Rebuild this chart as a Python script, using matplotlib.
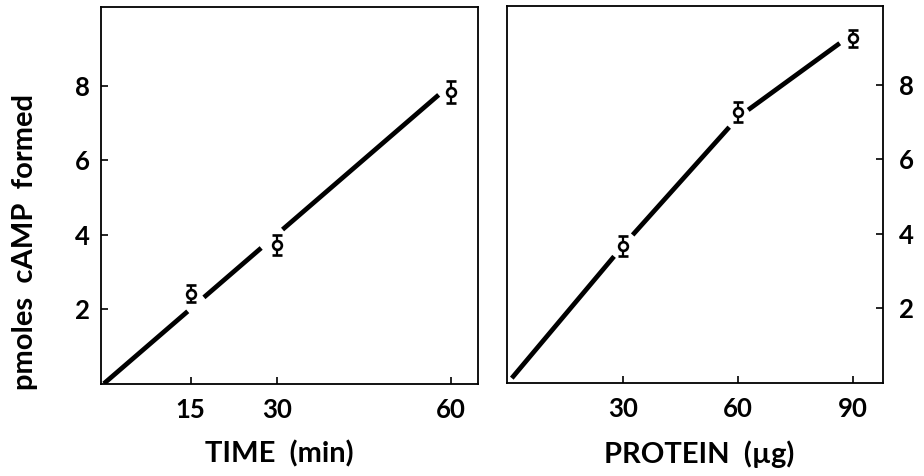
import numpy as np
import matplotlib
matplotlib.use("Agg")
import matplotlib.pyplot as plt

plt.rcParams['font.family'] = ['Lato', 'DejaVu Sans']
plt.rcParams['font.weight'] = 'bold'

# ---- data: left panel (time course) ----
time_min = [15, 30, 60]
camp_time = [2.42, 3.72, 7.83]
err_time = [0.23, 0.27, 0.30]
time_fit_slope = 0.134          # pmol/min, line through origin
time_ticks = [15, 30, 60]

# ---- data: right panel (protein dependence) ----
protein_ug = [30, 60, 90]
camp_protein = [3.67, 7.28, 9.25]
err_protein = [0.27, 0.27, 0.23]
protein_curve_x = [0, 30, 60, 90]
protein_curve_y = [0, 3.68, 7.13, 9.38]
protein_ticks = [30, 60, 90]

y_ticks = [2, 4, 6, 8]

# ---- styling (drawn segments of the hand-drawn lines) ----
time_spans = [(0, 14.5), (17.3, 27.2), (30.9, 57.9)]
protein_spans = [(0.9, 27.6), (32.45, 57.66), (62.6, 86.5)]

fig = plt.figure(figsize=(9.24, 4.76), dpi=100)
axL = fig.add_axes([101/924, 92/476, 377/924, 377/476])
axR = fig.add_axes([507/924, 93/476, 376/924, 377/476])

LW_LINE = 3.4
TICK_FS = 18.5
LABEL_FS = 21

def draw_errpts(ax, x, y, e):
    ax.errorbar(x, y, yerr=e, fmt='o', ms=6.3, mfc='white', mec='black',
                mew=1.9, ecolor='black', elinewidth=1.6, capsize=3.6,
                capthick=2.6, zorder=3)

# left panel
for a, b in time_spans:
    xs = np.array([a, b])
    axL.plot(xs, time_fit_slope * xs, color='black', lw=LW_LINE,
             solid_capstyle='butt', zorder=2)
draw_errpts(axL, time_min, camp_time, err_time)
axL.set_xlim(-0.5, 64.7)
axL.set_ylim(-0.01, 10.12)
axL.set_xticks(time_ticks)
axL.set_yticks(y_ticks)
axL.tick_params(axis='both', direction='in', length=5, width=1.2,
                labelsize=TICK_FS)
axL.tick_params(axis='y', pad=8)
axL.tick_params(axis='x', pad=10)
axL.set_xlabel('TIME  (min)', fontsize=LABEL_FS, fontweight='bold', va='center')
axL.xaxis.set_label_coords(0.472, -0.186)
axL.set_ylabel('pmoles  cAMP  formed', fontsize=LABEL_FS, fontweight='bold',
               va='center', ha='center')
axL.yaxis.set_label_coords(-0.202, 0.377)

# right panel
for a, b in protein_spans:
    xs = np.linspace(a, b, 20)
    axR.plot(xs, np.interp(xs, protein_curve_x, protein_curve_y),
             color='black', lw=LW_LINE, solid_capstyle='butt', zorder=2)
draw_errpts(axR, protein_ug, camp_protein, err_protein)
axR.set_xlim(-0.35, 97.8)
axR.set_ylim(-0.02, 10.12)
axR.set_xticks(protein_ticks)
axR.set_yticks(y_ticks)
axR.yaxis.tick_right()
axR.tick_params(axis='both', direction='in', length=5, width=1.2,
                labelsize=TICK_FS)
axR.tick_params(axis='y', pad=11.5)
axR.tick_params(axis='x', pad=10)
axR.set_xlabel('PROTEIN  (µg)', fontsize=LABEL_FS, fontweight='bold', va='center')
axR.xaxis.set_label_coords(0.511, -0.188)

for ax in (axL, axR):
    for s in ax.spines.values():
        s.set_linewidth(1.3)

fig.savefig('out.png', dpi=100)
